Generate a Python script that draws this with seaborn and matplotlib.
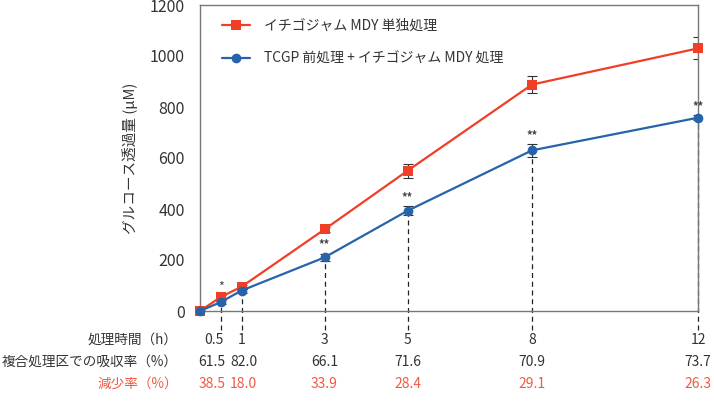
import matplotlib
matplotlib.use("Agg")
import matplotlib.pyplot as plt
import matplotlib.transforms as mtransforms
import seaborn as sns
import pandas as pd
import numpy as np

# ---- data ----
hours = [0, 0.5, 1, 3, 5, 8, 12]
series_a = "イチゴジャム MDY 単独処理"
series_b = "TCGP 前処理 + イチゴジャム MDY 処理"
vals_a = [0, 55, 95, 320, 550, 888, 1030]
err_a = [0, 8, 8, 10, 27, 33, 43]
vals_b = [0, 35, 80, 210, 393, 630, 758]
err_b = [0, 8, 8, 15, 18, 25, 10]
tick_hours = [0.5, 1, 3, 5, 8, 12]
tick_hour_labels = ["0.5", "1", "3", "5", "8", "12"]
absorb_labels = ["61.5", "82.0", "66.1", "71.6", "70.9", "73.7"]
reduce_labels = ["38.5", "18.0", "33.9", "28.4", "29.1", "26.3"]
sig_single = [(0.5, "*")]
sig_double = [(3, "**"), (5, "**"), (8, "**"), (12, "**")]
row_titles = ["処理時間（h）", "複合処理区での吸収率（%）", "減少率（%）"]

red = "#F03F26"
blue = "#2663A8"
red_text = "#F05A45"
txt = "#333333"

sns.set_theme(style="white")
plt.rcParams["font.family"] = ["Noto Sans CJK JP", "DejaVu Sans"]

df = pd.DataFrame({
    "h": hours + hours,
    "v": vals_a + vals_b,
    "s": [series_a] * len(hours) + [series_b] * len(hours),
})

fig = plt.figure(figsize=(7.14, 4.01), dpi=100)
ax = fig.add_axes([200 / 714, 90 / 401, 498 / 714, 306 / 401])

# dashed guide lines (behind)
for h in tick_hours:
    vb = vals_b[hours.index(h)]
    ax.plot([h, h], [-75, vb], ls=(0, (4, 3)), color="#222222", lw=0.9,
            clip_on=False, zorder=1)

ax.errorbar(hours, vals_a, yerr=err_a, fmt="none", ecolor="#333333",
            elinewidth=0.8, capsize=3.5, capthick=0.8, zorder=2)
ax.errorbar(hours, vals_b, yerr=err_b, fmt="none", ecolor="#333333",
            elinewidth=0.8, capsize=3.5, capthick=0.8, zorder=2)

sns.lineplot(data=df, x="h", y="v", hue="s", style="s",
             palette={series_a: red, series_b: blue},
             markers={series_a: "s", series_b: "o"}, dashes=False,
             markersize=7, markeredgewidth=0, linewidth=1.6, ax=ax,
             zorder=3, clip_on=False)

ax.set_xlim(0, 12)
ax.set_ylim(0, 1200)
ax.set_yticks(range(0, 1201, 200))
ax.set_yticklabels([str(v) for v in range(0, 1201, 200)], fontsize=11.5, color=txt)
ax.set_xticks([])
ax.set_xlabel("")
ax.set_ylabel("グルコース透過量 (μM)", fontsize=10.5, color=txt, labelpad=8)
ax.tick_params(axis="y", length=0, pad=11)
for sp in ax.spines.values():
    sp.set_color("#777777")
    sp.set_linewidth(1.0)

# significance marks
for h, s in sig_single:
    ax.text(h, vals_a[hours.index(h)] + 12, s, ha="center", va="bottom",
            fontsize=9, color="#444444")
for h, s in sig_double:
    i = hours.index(h)
    ax.text(h, vals_b[i] + err_b[i] + 8, s, ha="center", va="bottom",
            fontsize=8, color="#444444", fontweight="bold")

# table rows under axis
trans = mtransforms.blended_transform_factory(ax.transData, fig.transFigure)
col_shift_px = {0.5: -9, 1: 2, 3: 0, 5: 0, 8: 0, 12: 0}
row_y = [1 - 340 / 401, 1 - 362 / 401, 1 - 384 / 401]
rows = [tick_hour_labels, absorb_labels, reduce_labels]
colors = [txt, txt, red_text]
for r, (y, labels, title, c) in enumerate(zip(row_y, rows, row_titles, colors)):
    fig.text(178 / 714, y, title, ha="right", va="center", fontsize=9.8, color=c)
    for h, lab in zip(tick_hours, labels):
        shift = col_shift_px[h] if r > 0 else (-7 if h == 0.5 else 0)
        tr = trans + mtransforms.ScaledTranslation(shift / 100, 0, fig.dpi_scale_trans)
        ax.text(h, y, lab, transform=tr, ha="center", va="center",
                fontsize=10, color=c, clip_on=False)

leg = ax.legend(loc="upper left", bbox_to_anchor=(0.02, 0.995), frameon=False,
                fontsize=10, labelspacing=1.35, handlelength=2.0, handletextpad=1.0,
                title=None)
for t in leg.get_texts():
    t.set_color(txt)

fig.savefig("out.png", dpi=100)
